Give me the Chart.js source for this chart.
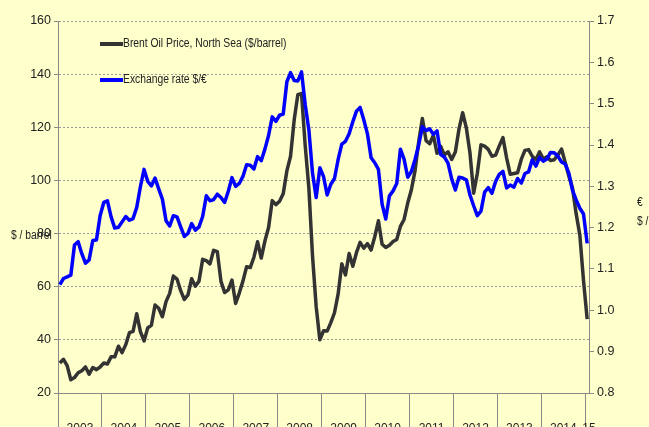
<!DOCTYPE html>
<html>
<head>
<meta charset="utf-8">
<script src="https://cdn.jsdelivr.net/npm/chart.js@4.4.1/dist/chart.umd.min.js"></script>
<style>
  html, body { margin: 0; padding: 0; background: #FFFFCC; overflow: hidden; }
  #wrap { width: 649px; height: 427px; }
</style>
</head>
<body>
<div id="wrap"><canvas id="c" width="649" height="427"></canvas></div>
<script>
// ---- Data (monthly, Jan 2003 .. Jan 2015) ----
const years = ['2003','2004','2005','2006','2007','2008','2009','2010','2011','2012','2013','2014'];
const lastLabel = '15';

const brentLabel = 'Brent Oil Price, North Sea ($/barrel)';
const brent = [
  31.3, 32.7, 30.3, 25.0, 25.8, 27.6, 28.4, 29.8, 27.1, 29.6, 28.8, 29.8,
  31.3, 30.9, 33.6, 33.6, 37.6, 35.2, 38.2, 42.7, 43.2, 49.8, 43.1, 39.6,
  44.5, 45.5, 53.1, 51.9, 48.7, 54.4, 57.5, 64.0, 62.9, 58.5, 55.2, 56.9,
  63.0, 60.2, 62.1, 70.3, 69.8, 68.6, 73.7, 73.2, 62.0, 57.8, 58.8, 62.5,
  53.7, 57.6, 62.1, 67.5, 67.2, 71.1, 76.9, 70.8, 77.2, 82.3, 92.4, 90.9,
  92.2, 95.0, 103.6, 109.1, 122.8, 132.3, 132.7, 113.2, 97.2, 71.6, 52.5, 40.0,
  43.4, 43.3, 46.5, 50.2, 57.3, 68.6, 64.4, 72.5, 67.7, 72.8, 76.7, 74.5,
  76.2, 73.8, 78.8, 84.8, 76.0, 74.8, 75.6, 77.0, 77.8, 82.7, 85.3, 91.5,
  96.5, 103.7, 114.6, 123.3, 115.0, 113.8, 117.0, 110.2, 112.8, 109.6, 110.8, 107.9,
  110.7, 119.3, 125.5, 119.8, 110.3, 95.2, 102.6, 113.4, 112.9, 111.7, 109.1, 109.5,
  113.0, 116.1, 108.5, 102.3, 102.6, 102.9, 107.9, 111.3, 111.6, 109.1, 107.8, 110.8,
  108.1, 108.9, 107.5, 107.8, 109.5, 111.8, 106.8, 101.6, 97.1, 87.4, 79.4, 62.3,
  47.8
];

const fxLabel = 'Exchange rate $/€';
const fx = [
  1.062, 1.077, 1.081, 1.085, 1.158, 1.166, 1.137, 1.114, 1.122, 1.169, 1.170, 1.229,
  1.261, 1.265, 1.226, 1.199, 1.201, 1.214, 1.227, 1.218, 1.222, 1.249, 1.299, 1.341,
  1.312, 1.301, 1.320, 1.294, 1.269, 1.217, 1.204, 1.229, 1.226, 1.202, 1.179, 1.186,
  1.210, 1.194, 1.202, 1.227, 1.277, 1.265, 1.268, 1.281, 1.273, 1.261, 1.288, 1.321,
  1.300, 1.307, 1.324, 1.352, 1.351, 1.342, 1.372, 1.362, 1.390, 1.423, 1.468, 1.457,
  1.472, 1.475, 1.553, 1.575, 1.556, 1.555, 1.577, 1.498, 1.437, 1.332, 1.273, 1.345,
  1.324, 1.279, 1.305, 1.319, 1.365, 1.402, 1.409, 1.427, 1.456, 1.482, 1.491, 1.461,
  1.427, 1.369, 1.357, 1.341, 1.257, 1.221, 1.277, 1.289, 1.307, 1.390, 1.366, 1.322,
  1.336, 1.365, 1.400, 1.444, 1.435, 1.439, 1.426, 1.434, 1.377, 1.371, 1.356, 1.318,
  1.291, 1.322, 1.320, 1.316, 1.279, 1.253, 1.229, 1.240, 1.286, 1.297, 1.283, 1.312,
  1.329, 1.336, 1.296, 1.303, 1.298, 1.319, 1.308, 1.331, 1.335, 1.364, 1.349, 1.370,
  1.361, 1.366, 1.382, 1.381, 1.373, 1.359, 1.354, 1.332, 1.290, 1.267, 1.247, 1.233,
  1.162
];

const leftTitle = '$ / barrel';
const rightTitle1 = '€';
const rightTitle2 = '$ / €';

// ---- Build chart ----
const FONT = "'Liberation Sans', Arial, sans-serif";
const TEXT = '#222222';
const AXIS = '#8a8a8a';
const SQUEEZE = 0.86; // horizontal condensing of overlay text

const toPts = arr => arr.map((v, i) => ({ x: i, y: v }));
const nMonths = brent.length;
const boundaryTicks = years.map((y, k) => k * 12 - 0.5).concat([years.length * 12 - 0.5]);
const labelTicks = years.map((y, k) => ({ value: k * 12 + 5.5, label: y }))
  .concat([{ value: nMonths - 0.5, label: lastLabel }]);

function squeezedText(ctx, text, x, y) {
  ctx.save();
  ctx.translate(x, y);
  ctx.scale(SQUEEZE, 1);
  ctx.fillText(text, 0, 0);
  ctx.restore();
}

const overlayPlugin = {
  id: 'overlay',
  afterDraw(chart) {
    const ctx = chart.ctx;
    ctx.save();
    const entries = [chart.data.datasets[0], chart.data.datasets[1]];
    const ys = [44, 80];
    entries.forEach((ds, i) => {
      ctx.strokeStyle = ds.borderColor;
      ctx.lineWidth = ds.borderWidth + 0.5;
      ctx.lineCap = 'butt';
      ctx.beginPath();
      ctx.moveTo(100, ys[i]);
      ctx.lineTo(123, ys[i]);
      ctx.stroke();
      ctx.fillStyle = TEXT;
      ctx.font = '12px ' + FONT;
      ctx.textAlign = 'left';
      ctx.textBaseline = 'middle';
      squeezedText(ctx, ds.label, 123, ys[i]);
    });
    ctx.font = '12px ' + FONT;
    ctx.fillStyle = TEXT;
    ctx.textAlign = 'left';
    ctx.textBaseline = 'middle';
    squeezedText(ctx, leftTitle, 11, 236);
    squeezedText(ctx, rightTitle1, 637, 203);
    squeezedText(ctx, rightTitle2, 637, 222);
    ctx.restore();
  }
};

new Chart(document.getElementById('c'), {
  type: 'line',
  data: {
    datasets: [
      {
        label: brentLabel, data: toPts(brent), yAxisID: 'y', xAxisID: 'x',
        borderColor: '#333333', borderWidth: 3.5, pointRadius: 0, tension: 0,
        borderJoinStyle: 'round', order: 1
      },
      {
        label: fxLabel, data: toPts(fx), yAxisID: 'y1', xAxisID: 'x',
        borderColor: '#0000FF', borderWidth: 3.5, pointRadius: 0, tension: 0,
        borderJoinStyle: 'round', order: 0
      }
    ]
  },
  options: {
    responsive: false,
    animation: false,
    layout: { padding: { top: 21, left: 0, right: 0, bottom: 0 } },
    plugins: { legend: { display: false }, tooltip: { enabled: false } },
    scales: {
      x: {
        type: 'linear', position: 'bottom', min: -0.5, max: nMonths - 0.5,
        afterBuildTicks: s => { s.ticks = boundaryTicks.map(v => ({ value: v })); },
        afterFit: s => { s.height = 0; },
        ticks: { display: false },
        grid: { drawOnChartArea: false, drawTicks: true, tickLength: 34, color: AXIS, tickColor: AXIS },
        border: { display: true, color: AXIS, width: 1 }
      },
      xl: {
        type: 'linear', position: 'bottom', min: -0.5, max: nMonths - 0.5, weight: 1,
        afterBuildTicks: s => { s.ticks = labelTicks.map(t => ({ value: t.value })); },
        afterFit: s => { s.height = 34; },
        ticks: {
          autoSkip: false, maxRotation: 0, padding: 28, color: TEXT,
          font: { family: FONT, size: 12 },
          callback: v => { const t = labelTicks.find(t => t.value === v); return t ? t.label : ''; }
        },
        grid: { display: false, drawTicks: false },
        border: { display: false }
      },
      y: {
        position: 'left', min: 20, max: 160,
        afterFit: s => { s.width = 58; },
        ticks: { stepSize: 20, padding: 3, color: TEXT, font: { family: FONT, size: 12.5 } },
        grid: { color: '#9a9a9a', tickColor: AXIS, tickLength: 4, lineWidth: 1 },
        border: { display: true, color: AXIS, dash: [2, 2] }
      },
      y1: {
        position: 'right', min: 0.8, max: 1.7,
        afterFit: s => { s.width = 60; },
        ticks: { stepSize: 0.1, padding: 3, color: TEXT, font: { family: FONT, size: 12.5 } },
        grid: { drawOnChartArea: false, tickColor: AXIS, tickLength: 5 },
        border: { display: true, color: AXIS }
      }
    }
  },
  plugins: [overlayPlugin]
});
</script>
</body>
</html>
